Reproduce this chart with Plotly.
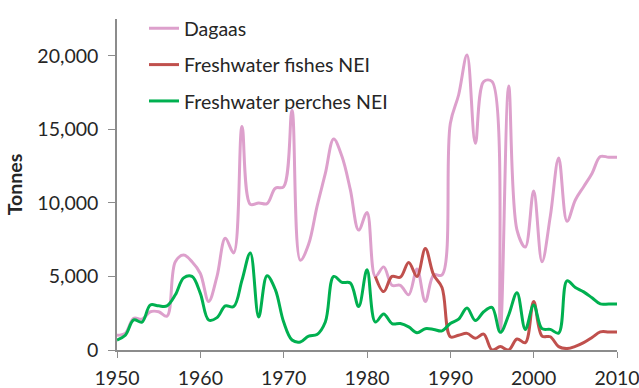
import plotly.graph_objects as go

# Annual catch, tonnes
years = list(range(1950, 2011))

dagaas = [
    1000, 1150, 2150, 2100, 2600, 2600, 2300, 6000, 6450, 6000,
    5200, 3300, 5000, 7600, 6600, 15200, 9900, 10000, 9950, 11000,
    11100, 16300, 6100, 7200, 9750, 12000, 14350, 13150, 10900, 8150,
    9350, 5000, 5650, 4400, 4400, 3750, 5500, 3300, 5100, 5100,
    15400, 17350, 20050, 14050, 18250, 18250, 1300, 17950, 8150, 7000,
    10800, 6000, 9100, 13050, 8750, 10200, 11100, 12000, 13150, 13100,
    13100,
]

fishes_years = list(range(1981, 2011))
fishes_nei = [
    5000, 3970, 5000, 4950, 5950, 5000, 6900, 5100, 4250,
    900, 1000, 1130, 800, 1080, 0, 230, 0, 750, 500,
    3300, 950, 900, 230, 100, 250, 500, 850, 1230, 1230,
    1230,
]

perches_nei = [
    680, 1000, 2040, 1900, 3060, 3000, 3000, 3750, 4900, 5000,
    3850, 2040, 2200, 3000, 2950, 4750, 6600, 2250, 5050, 4100,
    1900, 680, 550, 950, 1050, 1900, 5000, 4600, 4550, 2950,
    5450, 1900, 2450, 1800, 1800, 1570, 1180, 1450, 1400, 1300,
    1800, 2100, 2850, 2000, 2600, 2900, 1200, 2380, 3900, 1400,
    3060, 1450, 1400, 1150, 4700, 4250, 3950, 3550, 3130, 3130,
    3130,
]

y_ticks = [0, 5000, 10000, 15000, 20000]
y_tick_text = ["0", "5,000", "10,000", "15,000", "20,000"]
x_ticks = [1950, 1960, 1970, 1980, 1990, 2000, 2010]

FONT = "Lato, 'Open Sans', sans-serif"
TEXT = "#262626"
AXIS = "#8c8c8c"
FS = 19.5

fig = go.Figure()

series = [
    ("Dagaas", years, dagaas, "#DDA0CC"),
    ("Freshwater fishes NEI", fishes_years, fishes_nei, "#C0504D"),
    ("Freshwater perches NEI", years, perches_nei, "#00B050"),
]
for name, xs, ys, color in series:
    fig.add_trace(go.Scatter(
        x=xs, y=ys, name=name, mode="lines", legendgroup=name,
        line=dict(color=color, width=3, shape="spline", smoothing=1.0),
        hoverinfo="x+y+name",
    ))

fig.update_layout(
    width=639, height=388,
    margin=dict(l=117, r=22, t=19, b=38, autoexpand=False),
    paper_bgcolor="white", plot_bgcolor="white",
    font=dict(family=FONT, size=FS, color=TEXT),
    showlegend=True,
    legend=dict(
        x=0.054, y=1.03, xanchor="left", yanchor="top",
        bgcolor="rgba(0,0,0,0)", font=dict(size=FS, color=TEXT),
        tracegroupgap=8, itemwidth=30,
    ),
    xaxis=dict(
        range=[1950, 2010], tickvals=x_ticks, ticks="outside", ticklen=6,
        tickcolor=AXIS, showline=True, linecolor=AXIS, linewidth=1.5,
        showgrid=False, zeroline=False, automargin=False,
        ticklabelstandoff=4, ticklabeloverflow="allow",
        tickfont=dict(size=FS, color=TEXT),
    ),
    yaxis=dict(
        range=[0, 22500], tickvals=y_ticks, ticktext=y_tick_text,
        ticks="outside", ticklen=7, tickcolor=AXIS, showline=True,
        linecolor=AXIS, linewidth=1.5, showgrid=False, zeroline=False,
        automargin=False, ticklabelstandoff=6,
        tickfont=dict(size=FS, color=TEXT),
        title=dict(text="<b>Tonnes</b>", font=dict(size=FS, color=TEXT), standoff=10),
    ),
)

fig.write_html("out.html")
